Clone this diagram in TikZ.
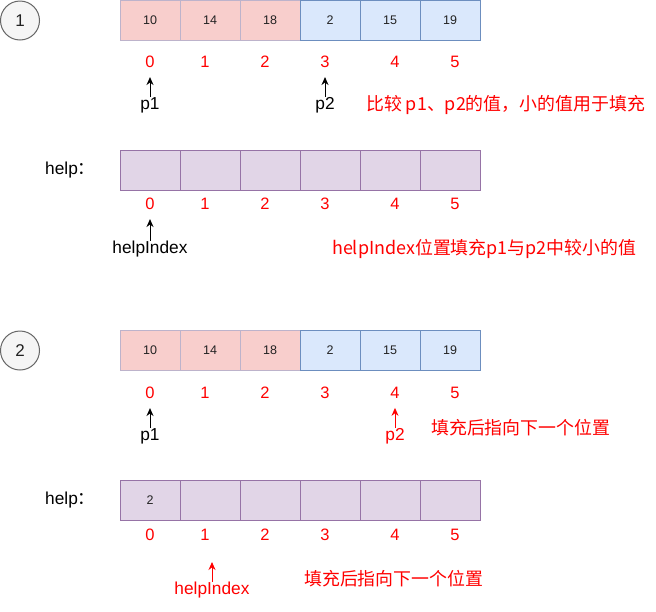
\documentclass[tikz,border=0pt]{standalone}
\usepackage{fontspec}
\setmainfont{Liberation Sans}
\newfontfamily\cjk{Noto Sans CJK SC}
\usetikzlibrary{arrows.meta}
\definecolor{pinkfill}{HTML}{F8CECC}
\definecolor{pinkline}{HTML}{BDB3CB}
\definecolor{bluefill}{HTML}{DAE8FC}
\definecolor{blueline}{HTML}{6C8EBF}
\definecolor{purfill}{HTML}{E1D5E7}
\definecolor{purline}{HTML}{9673A6}
\definecolor{circfill}{HTML}{F5F5F5}
\definecolor{circline}{HTML}{666666}
\definecolor{txt}{HTML}{222222}
\definecolor{redtxt}{HTML}{FF0000}
\tikzset{
  cellbase/.style={minimum width=60pt, minimum height=40pt, inner sep=0pt, line width=1pt,
    font=\fontsize{12.5}{14}\selectfont, text=txt},
  cellR/.style={cellbase, draw=pinkline, fill=pinkfill},
  cellB/.style={cellbase, draw=blueline, fill=bluefill},
  cellP/.style={cellbase, draw=purline, fill=purfill},
  stepcirc/.style={circle, draw=circline, fill=circfill, line width=1pt, minimum size=39pt,
    inner sep=0pt, font=\fontsize{17}{20}\selectfont, text=txt},
  idx/.style={inner sep=0pt, text=redtxt, font=\fontsize{16.5}{18}\selectfont},
  lbl/.style={inner sep=0pt, text=black, font=\fontsize{17.3}{20}\selectfont},
  redlbl/.style={inner sep=0pt, text=redtxt, font=\fontsize{17.3}{20}\selectfont},
  note/.style={inner sep=0pt, text=redtxt, anchor=west, font=\fontsize{17.9}{20}\selectfont\cjk},
  arr/.style={-{Stealth[length=8pt,width=7pt]}, line width=1pt, black},
  redarr/.style={arr, redtxt},
}
\begin{document}
\begin{tikzpicture}[x=1pt, y=-1pt]
\useasboundingbox (0,0) rectangle (656,611);
% ---------- step 1 ----------
\node[stepcirc] (c1) at (20,20.5) {1};
\foreach \v [count=\i from 0] in {10,14,18}
  \node[cellR] (a\i) at (150+60*\i,20.5) {\v};
\foreach \v [count=\i from 3] in {2,15,19}
  \node[cellB] (a\i) at (150+60*\i,20.5) {\v};
\foreach \x [count=\i from 0] in {150,205,265,325,395,455}
  \node[idx] (ia\i) at (\x,62) {\i};
\node[lbl] (p1a) at (150,105) {p1};
\node[lbl] (p2a) at (325,105) {p2};
\draw[arr] (p1a.north) -- ([yshift=-9pt]ia0.south);
\draw[arr] (p2a.north) -- ([yshift=-9pt]ia3.south);
\node[note] (n1) at (366,105) {比较 p1、p2的值，小的值用于填充};

\node[lbl, anchor=west] (h1) at (45,170) {help{\cjk ：}};
\foreach \i in {0,...,5}
  \node[cellP] (b\i) at (150+60*\i,170.5) {};
\foreach \x [count=\i from 0] in {150,205,265,325,395,455}
  \node[idx] (ib\i) at (\x,204) {\i};
\node[lbl] (hi1) at (150,249) {helpIndex};
\draw[arr] (hi1.north) -- ([yshift=-9pt]ib0.south);
\node[note] (n2) at (332,249) {helpIndex位置填充p1与p2中较小的值};

% ---------- step 2 ----------
\node[stepcirc] (c2) at (20,350.5) {2};
\foreach \v [count=\i from 0] in {10,14,18}
  \node[cellR] (d\i) at (150+60*\i,350.5) {\v};
\foreach \v [count=\i from 3] in {2,15,19}
  \node[cellB] (d\i) at (150+60*\i,350.5) {\v};
\foreach \x [count=\i from 0] in {150,205,265,325,395,455}
  \node[idx] (id\i) at (\x,393) {\i};
\node[lbl] (p1b) at (150,436) {p1};
\node[redlbl] (p2b) at (395,436) {p2};
\draw[arr] (p1b.north) -- ([yshift=-9pt]id0.south);
\draw[redarr] (p2b.north) -- ([yshift=-9pt]id4.south);
\node[note] (n3) at (431,428) {填充后指向下一个位置};

\node[lbl, anchor=west] (h2) at (45,500) {help{\cjk ：}};
\node[cellP] (e0) at (150,500.5) {2};
\foreach \i in {1,...,5}
  \node[cellP] (e\i) at (150+60*\i,500.5) {};
\foreach \x [count=\i from 0] in {150,205,265,325,395,455}
  \node[idx] (ie\i) at (\x,535) {\i};
\coordinate (t2) at (212,562);
\node[redlbl] (hi2) at (212,590) {helpIndex};
\draw[redarr] (hi2.north) -- (t2);
\node[note] (n4) at (304,579) {填充后指向下一个位置};
\end{tikzpicture}
\end{document}
